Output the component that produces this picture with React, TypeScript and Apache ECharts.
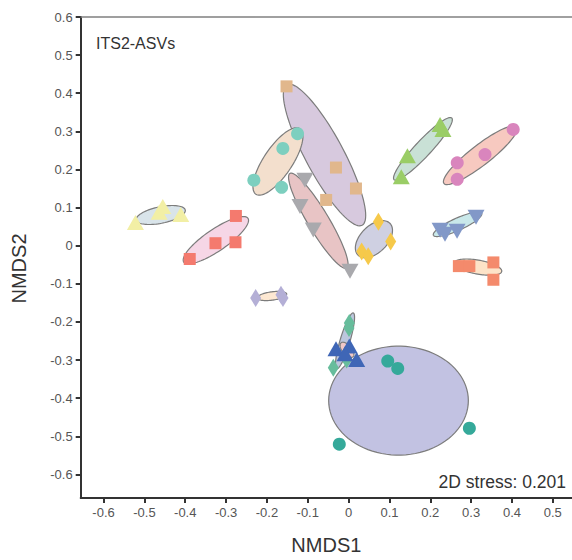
import React, { useEffect, useRef } from "react";
import * as echarts from "echarts";

// ---- tick labels ----
const xTicks = [-0.6, -0.5, -0.4, -0.3, -0.2, -0.1, 0, 0.1, 0.2, 0.3, 0.4, 0.5];
const yTicks = [-0.6, -0.5, -0.4, -0.3, -0.2, -0.1, 0, 0.1, 0.2, 0.3, 0.4, 0.5, 0.6];

// ---- point groups (NMDS1, NMDS2) ----
const paleYellowTriangles = [[-0.522, 0.061], [-0.455, 0.103], [-0.464, 0.088], [-0.411, 0.082]];
const salmonSquares = [[-0.389, -0.035], [-0.326, 0.0065], [-0.277, 0.009], [-0.276, 0.078]];
const mintCircles = [[-0.125, 0.294], [-0.161, 0.255], [-0.232, 0.172], [-0.164, 0.153]];
const tanSquares = [[-0.152, 0.418], [-0.031, 0.205], [0.018, 0.15], [-0.055, 0.12]];
const grayDownTriangles = [[-0.107, 0.172], [-0.119, 0.103], [-0.0865, 0.041], [0.0034, -0.067]];
const goldDiamonds = [[0.073, 0.063], [0.103, 0.011], [0.032, -0.015], [0.048, -0.028]];
const greenTriangles = [[0.224, 0.318], [0.231, 0.305], [0.144, 0.236], [0.129, 0.181]];
const pinkCircles = [[0.403, 0.305], [0.334, 0.239], [0.266, 0.2175], [0.266, 0.174]];
const slateDownTriangles = [[0.224, 0.0405], [0.236, 0.03], [0.2656, 0.0379], [0.312, 0.0745]];
const orangeSquares = [[0.27, -0.0536], [0.2957, -0.0536], [0.3545, -0.0439], [0.3545, -0.0894]];
const lavenderDiamonds = [[-0.2276, -0.137], [-0.1656, -0.1286], [-0.1607, -0.137]];
const seaGreenDiamonds = [[0.0017, -0.2026], [0.001, -0.2157], [-0.0047, -0.2986], [-0.0375, -0.32]];
const blueTriangles = [[-0.0309, -0.2706], [0.0017, -0.2635], [0.0198, -0.2986], [-0.0088, -0.2837]];
const tealCircles = [[0.0958, -0.3027], [0.1203, -0.322], [0.2957, -0.479], [-0.0228, -0.5208]];

// ---- ellipses: [centerX, centerY, majorEndX, majorEndY, minor/major ratio] ----
const ellipseParams = [
  [0.1222, -0.4065, 0.2932, -0.4065, 0.78],
  [-0.059, 0.238, 0.033, 0.0536, 0.24],
  [-0.173, 0.221, -0.119, 0.307, 0.36],
  [-0.0742, 0.0654, -0.0047, -0.0588, 0.19],
  [-0.46, 0.0805, -0.4, 0.0936, 0.33],
  [-0.325, 0.0144, -0.2464, 0.0719, 0.28],
  [0.062, 0.017, 0.101, 0.0588, 0.6],
  [0.182, 0.254, 0.2526, 0.335, 0.19],
  [0.3226, 0.2374, 0.4118, 0.3116, 0.22],
  [0.2668, 0.0562, 0.326, 0.085, 0.23],
  [0.317, -0.0562, 0.375, -0.0675, 0.29],
  [-0.1877, -0.132, -0.1516, -0.1268, 0.28],
  [-0.0088, -0.2497, 0.0115, -0.1765, 0.17],
  [-0.0039, -0.2732, 0.0108, -0.2915, 0.5],
];
const ellipseFills = [
  "#c2c2e2", "#d7c9de", "#f3dfcd", "#e8c4c5", "#d9e4ea", "#f6d6e6", "#cfd0e2",
  "#c9e1d6", "#f7c9c0", "#c9e8ea", "#fde3c8", "#fde8d2", "#bcc6dd", "#f0c8c8",
];

const groups = [
  { data: paleYellowTriangles, symbol: "triangle", size: [17, 15], rotate: 0, color: "#f2efa5" },
  { data: salmonSquares, symbol: "rect", size: [12, 12], rotate: 0, color: "#f47a6e" },
  { data: mintCircles, symbol: "circle", size: 13, rotate: 0, color: "#7dcfbf" },
  { data: tanSquares, symbol: "rect", size: [12, 12], rotate: 0, color: "#e1b78c" },
  { data: grayDownTriangles, symbol: "triangle", size: [17, 15], rotate: 180, color: "#a9a9ad" },
  { data: goldDiamonds, symbol: "diamond", size: [11, 18], rotate: 0, color: "#f6c94a" },
  { data: greenTriangles, symbol: "triangle", size: [17, 15], rotate: 0, color: "#9acd66" },
  { data: pinkCircles, symbol: "circle", size: 13, rotate: 0, color: "#d985bd" },
  { data: slateDownTriangles, symbol: "triangle", size: [17, 15], rotate: 180, color: "#8298c8" },
  { data: orangeSquares, symbol: "rect", size: [12, 12], rotate: 0, color: "#f48a6c" },
  { data: lavenderDiamonds, symbol: "diamond", size: [11, 18], rotate: 0, color: "#b4afd6" },
  { data: seaGreenDiamonds, symbol: "diamond", size: [11, 18], rotate: 0, color: "#67bd9c" },
  { data: blueTriangles, symbol: "triangle", size: [17, 15], rotate: 0, color: "#3f66b6" },
  { data: tealCircles, symbol: "circle", size: 13, rotate: 0, color: "#35a99a" },
];

const FONT = "'Liberation Sans', Arial, Helvetica, sans-serif";

export default function App() {
  const ref = useRef<HTMLDivElement>(null);
  useEffect(() => {
    if (!ref.current) return;
    const chart = echarts.init(ref.current, null, { renderer: "svg" });

    const fmt = (v: number) => (Math.abs(v) < 1e-9 ? "0" : v.toFixed(1));

    const ellipseSeries = {
      type: "custom",
      xAxisIndex: 0,
      yAxisIndex: 0,
      silent: true,
      data: ellipseParams,
      encode: { x: 0, y: 1 },
      renderItem: (params: any, api: any) => {
        const c = api.coord([api.value(0), api.value(1)]);
        const e = api.coord([api.value(2), api.value(3)]);
        const ratio = api.value(4);
        const dx = e[0] - c[0];
        const dy = e[1] - c[1];
        const a = Math.hypot(dx, dy);
        const b = a * ratio;
        const ux = dx / a, uy = dy / a;
        const vx = -uy, vy = ux;
        const pts: number[][] = [];
        for (let i = 0; i < 90; i++) {
          const t = (i / 90) * Math.PI * 2;
          const ca = Math.cos(t) * a, sb = Math.sin(t) * b;
          pts.push([c[0] + ca * ux + sb * vx, c[1] + ca * uy + sb * vy]);
        }
        return {
          type: "polygon",
          shape: { points: pts },
          style: { fill: ellipseFills[params.dataIndex], stroke: "#7c7c7c", lineWidth: 1.2 },
        };
      },
    };

    const scatterSeries = groups.map((g) => ({
      type: "scatter",
      xAxisIndex: 0,
      yAxisIndex: 0,
      data: g.data,
      symbol: g.symbol,
      symbolSize: g.size,
      symbolRotate: g.rotate,
      itemStyle: { color: g.color, opacity: 1 },
      silent: true,
    }));

    chart.setOption({
      animation: false,
      grid: { left: 80.7, right: 0, top: 17, bottom: 59.3, containLabel: false },
      xAxis: [
        {
          type: "value",
          min: -0.656,
          max: 0.547,
          splitNumber: 12,
          position: "bottom",
          name: "NMDS1",
          nameLocation: "middle",
          nameGap: 37,
          nameTextStyle: { fontFamily: FONT, fontSize: 20, color: "#333" },
          axisLine: { show: true, onZero: false, lineStyle: { color: "#333", width: 2 } },
          axisTick: { show: true, length: 5, lineStyle: { color: "#333", width: 2 }, customValues: xTicks },
          axisLabel: { fontFamily: FONT, fontSize: 13, color: "#555", margin: 8, customValues: xTicks, formatter: fmt },
          splitLine: { show: false },
        },
        {
          type: "value",
          min: -0.656,
          max: 0.547,
          position: "top",
          axisLine: { show: true, onZero: false, lineStyle: { color: "#808080", width: 1.5 } },
          axisTick: { show: false },
          axisLabel: { show: false },
          splitLine: { show: false },
        },
      ],
      yAxis: {
        type: "value",
        min: -0.662,
        max: 0.6,
        splitNumber: 12,
        name: "NMDS2",
        nameLocation: "middle",
        nameGap: 52,
        nameTextStyle: { fontFamily: FONT, fontSize: 20, color: "#333", padding: [0, 22, 0, 0] },
        axisLine: { show: true, onZero: false, lineStyle: { color: "#333", width: 2 } },
        axisTick: { show: true, length: 5, lineStyle: { color: "#333", width: 2 }, customValues: yTicks },
        axisLabel: { fontFamily: FONT, fontSize: 13, color: "#555", margin: 8, customValues: yTicks, formatter: fmt },
        splitLine: { show: false },
      },
      graphic: [
        {
          type: "text",
          left: 96,
          top: 35,
          style: { text: "ITS2-ASVs", fontFamily: FONT, fontSize: 16, fill: "#333" },
        },
        {
          type: "text",
          right: 6,
          top: 473,
          style: { text: "2D stress: 0.201", fontFamily: FONT, fontSize: 17.5, fill: "#333" },
        },
      ],
      series: [ellipseSeries, ...scatterSeries],
    });

    return () => chart.dispose();
  }, []);

  return (
    <div
      ref={ref}
      style={{ position: "fixed", left: 0, top: 0, width: 572, height: 560, background: "#fff" }}
    />
  );
}
